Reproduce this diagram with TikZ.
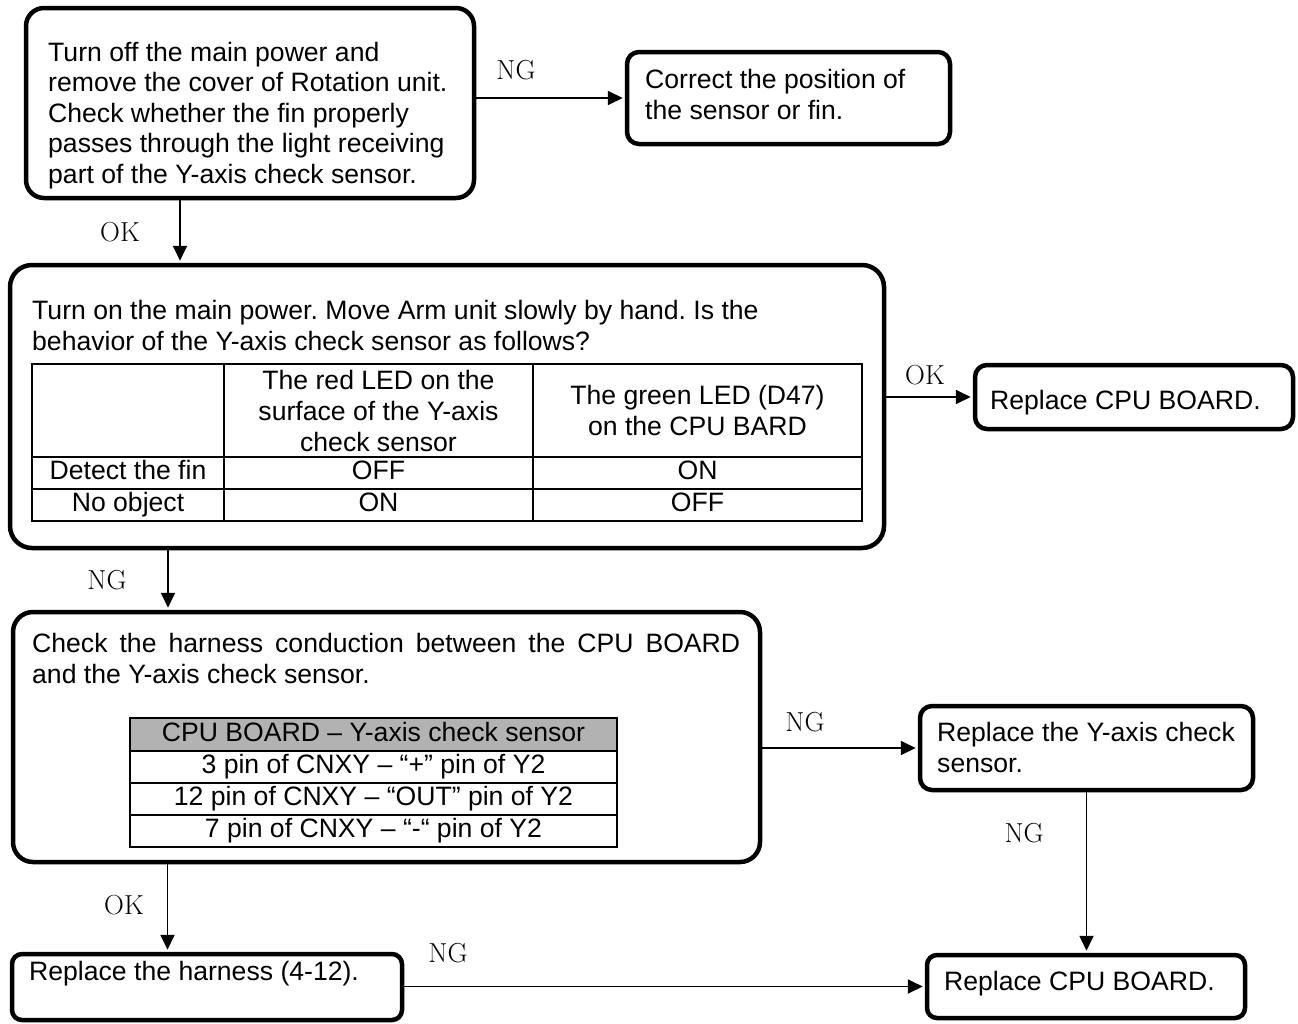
\documentclass[tikz,border=0pt]{standalone}
\usepackage{fontspec}
\newfontfamily\arial{Liberation Sans}
\usetikzlibrary{arrows.meta}
\frenchspacing
\begin{document}
\begin{tikzpicture}[x=1pt,y=-1pt,
  box/.style={draw, line width=4.5pt, inner sep=0pt},
  txt/.style={font=\arial\fontsize{26.6}{31}\selectfont, align=left, inner sep=0pt, anchor=base west},
  cell/.style={draw, line width=1.8pt, inner sep=0pt, font=\arial\fontsize{26.6}{31}\selectfont, align=center},
  one/.style={text height=19pt, text depth=6pt},
  arr/.style={line width=1.8pt, -{Triangle[length=15pt,width=14pt]}, shorten >=2pt},
  lab/.style={font=\fontsize{27.5}{30}\selectfont, inner sep=0pt}]
\useasboundingbox (0,0) rectangle (1298,1023);

% boxes
\node[box, rounded corners=18pt, minimum width=448pt, minimum height=190pt] (b1) at (250,103) {};
\node[box, rounded corners=12pt, minimum width=323pt, minimum height=92pt] (b2) at (788.5,98) {};
\node[box, rounded corners=22pt, minimum width=874pt, minimum height=283pt] (b3) at (447,406.5) {};
\node[box, rounded corners=12pt, minimum width=318pt, minimum height=64pt] (b4) at (1134,397) {};
\node[box, rounded corners=20pt, minimum width=747pt, minimum height=250pt] (b5) at (386.5,737) {};
\node[box, rounded corners=12pt, minimum width=333pt, minimum height=84pt] (b6) at (1086.5,748) {};
\node[box, rounded corners=10pt, minimum width=318pt, minimum height=63pt] (b7) at (1086,986.5) {};
\node[box, rounded corners=10pt, minimum width=390pt, minimum height=66pt] (b8) at (207,987) {};

% texts (anchored at the baseline of their last line)
\node[txt, font=\arial\fontsize{26.6}{30.5}\selectfont] (b1t) at (48,183) {Turn off the main power and\\remove the cover of Rotation unit.\\Check whether the fin properly\\passes through the light receiving\\part of the Y-axis check sensor.};
\node[txt] (b2t) at (645,119) {Correct the position of\\the sensor or fin.};
\node[txt] (b3t) at (32,350) {Turn on the main power. Move Arm unit slowly by hand. Is the\\behavior of the Y-axis check sensor as follows?};
\node[txt] (b4t) at (990,409) {Replace CPU BOARD.};
\node[txt] (b5t) at (32,683) {\makebox[708pt][s]{Check the harness conduction between the CPU BOARD}\\and the Y-axis check sensor.};
\node[txt] (b6t) at (937,772) {Replace the Y-axis check\\sensor.};
\node[txt] (b7t) at (944,990) {Replace CPU BOARD.};
\node[txt] (b8t) at (29,980) {Replace the harness (4-12).};

% table in box 3
\node[cell, minimum width=192pt, minimum height=93pt] (t11) at (128,410.5) {};
\node[cell, minimum width=309pt, minimum height=93pt] (t12) at (378.5,410.5) {The red LED on the\\surface of the Y-axis\\check sensor};
\node[cell, minimum width=329pt, minimum height=93pt] (t13) at (697.5,410.5) {The green LED (D47)\\on the CPU BARD};
\node[cell, one, minimum width=192pt, minimum height=32pt] (t21) at (128,473) {Detect the fin};
\node[cell, one, minimum width=309pt, minimum height=32pt] (t22) at (378.5,473) {OFF};
\node[cell, one, minimum width=329pt, minimum height=32pt] (t23) at (697.5,473) {ON};
\node[cell, one, minimum width=192pt, minimum height=32pt] (t31) at (128,505) {No object};
\node[cell, one, minimum width=309pt, minimum height=32pt] (t32) at (378.5,505) {ON};
\node[cell, one, minimum width=329pt, minimum height=32pt] (t33) at (697.5,505) {OFF};

% table in box 5
\node[cell, one, fill=gray!60, minimum width=487pt, minimum height=33pt] (h1) at (373.5,734.5) {CPU BOARD – Y-axis check sensor};
\node[cell, one, minimum width=487pt, minimum height=32pt] (h2) at (373.5,767) {3 pin of CNXY – “+” pin of Y2};
\node[cell, one, minimum width=487pt, minimum height=32pt] (h3) at (373.5,799) {12 pin of CNXY – “OUT” pin of Y2};
\node[cell, one, minimum width=487pt, minimum height=32pt] (h4) at (373.5,831) {7 pin of CNXY – “-“ pin of Y2};

% connectors
\draw[arr] (b1.east |- b2.west) -- (b2.west);
\draw[arr] ([xshift=-70pt]b1.south) -- ([xshift=-70pt]b1.south |- b3.north);
\draw[arr] (b3.east |- b4.west) -- (b4.west);
\draw[arr] ([xshift=-279pt]b3.south) -- ([xshift=-279pt]b3.south |- b5.north);
\draw[arr] (b5.east |- b6.west) -- (b6.west);
\draw[arr] (b6.south) -- (b6.south |- b7.north);
\draw[arr] ([xshift=-219pt]b5.south) -- ([xshift=-219pt]b5.south |- b8.north);
\draw[arr] (b8.east |- b7.west) -- (b7.west);

% labels
\node[lab] (l1) at (516,70) {NG};
\node[lab] (l2) at (120,232) {OK};
\node[lab] (l3) at (925,375) {OK};
\node[lab] (l4) at (107,580) {NG};
\node[lab] (l5) at (805,722) {NG};
\node[lab] (l6) at (1024,833) {NG};
\node[lab] (l7) at (124,905) {OK};
\node[lab] (l8) at (448,953) {NG};
\end{tikzpicture}
\end{document}
